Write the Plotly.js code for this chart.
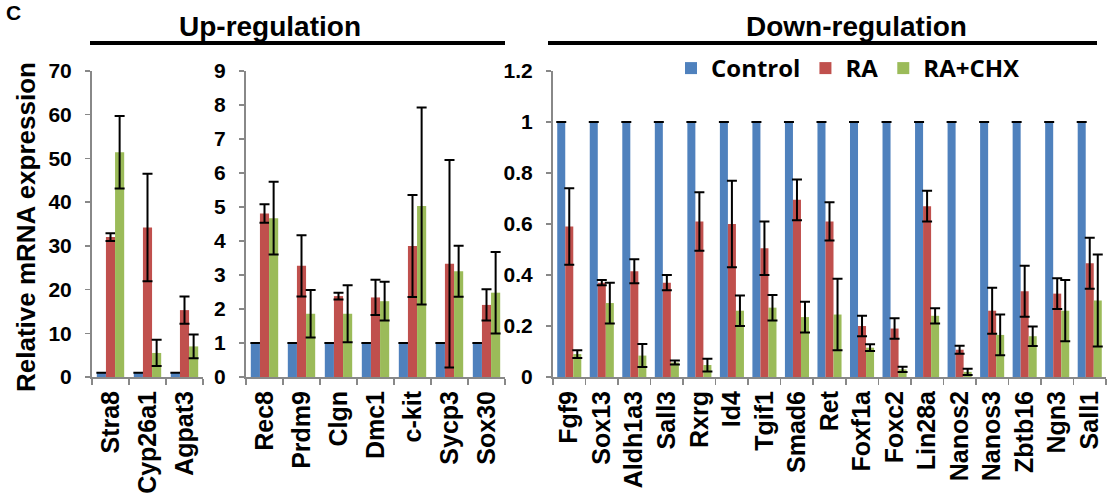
<!DOCTYPE html>
<html><head><meta charset="utf-8">
<script src="https://cdn.plot.ly/plotly-3.0.1.min.js"></script>
<style>html,body{margin:0;padding:0;background:#fff}#chart{width:1119px;height:502px}</style>
</head><body><div id="chart"></div>
<script>
// Panel 1 (Up-regulation, large scale)
const cats1 = ['Stra8','Cyp26a1','Agpat3'];
const ctrl1 = [1,1,1];
const ra1 = [32,34.2,15.3];
const raErr1 = [0.9,12.3,3.1];
const chx1 = [51.4,5.5,7];
const chxErr1 = [8.3,3,2.7];
// Panel 2 (Up-regulation, small scale)
const cats2 = ['Rec8','Prdm9','Clgn','Dmc1','c-kit','Sycp3','Sox30'];
const ctrl2 = [1,1,1,1,1,1,1];
const ra2 = [4.81,3.27,2.38,2.34,3.85,3.33,2.12];
const raErr2 = [0.27,0.9,0.1,0.52,1.5,3.05,0.46];
const chx2 = [4.67,1.86,1.86,2.23,5.03,3.11,2.48];
const chxErr2 = [1.07,0.7,0.84,0.57,2.9,0.75,1.2];
// Panel 3 (Down-regulation)
const cats3 = ['Fgf9','Sox13','Aldh1a3','Sall3','Rxrg','Id4','Tgif1','Smad6','Ret','Foxf1a','Foxc2','Lin28a','Nanos2','Nanos3','Zbtb16','Ngn3','Sall1'];
const ctrl3 = [1,1,1,1,1,1,1,1,1,1,1,1,1,1,1,1,1];
const ra3 = [0.59,0.37,0.415,0.37,0.61,0.6,0.505,0.695,0.61,0.2,0.19,0.67,0.107,0.26,0.336,0.327,0.446];
const raErr3 = [0.15,0.01,0.047,0.03,0.115,0.17,0.105,0.08,0.075,0.04,0.04,0.06,0.016,0.09,0.1,0.06,0.1];
const chx3 = [0.09,0.29,0.084,0.057,0.047,0.26,0.272,0.235,0.245,0.115,0.03,0.24,0.02,0.165,0.16,0.26,0.3];
const chxErr3 = [0.015,0.08,0.045,0.008,0.025,0.06,0.05,0.06,0.14,0.013,0.01,0.03,0.012,0.08,0.038,0.12,0.18];

const seriesNames = ['Control','RA','RA+CHX'];
const colors = ['#4F81BD','#C0504D','#9BBB59'];
const FONT = 'Arial, "Liberation Sans", sans-serif';
const LFONT = '"Open Sans", Lato, sans-serif';
const W = 1119, H = 502;

function errObj(arr){
  return {type:'data', array:arr, visible:true, color:'#000', thickness:2, width:5};
}
const panels = [
  {cats:cats1, vals:[ctrl1,ra1,chx1], errs:[ctrl1.map(()=>0),raErr1,chxErr1], xa:'x', ya:'y'},
  {cats:cats2, vals:[ctrl2,ra2,chx2], errs:[ctrl2.map(()=>0),raErr2,chxErr2], xa:'x2', ya:'y2'},
  {cats:cats3, vals:[ctrl3,ra3,chx3], errs:[ctrl3.map(()=>0),raErr3,chxErr3], xa:'x3', ya:'y3'}
];
const data = [];
panels.forEach((p,pi)=>{
  for(let s=0;s<3;s++){
    data.push({
      type:'bar', x:p.cats, y:p.vals[s], name:seriesNames[s],
      marker:{color:colors[s]}, error_y:errObj(p.errs[s]),
      xaxis:p.xa, yaxis:p.ya, legendgroup:seriesNames[s], showlegend:pi===2
    });
  }
});

const px = v => v/W;
const py = v => 1 - v/H;
const yDom = [py(377), py(71)];
const xTickFont = {family:FONT, size:25, color:'#000', weight:'bold'};
const yTickFont = {family:FONT, size:21, color:'#000', weight:'bold'};
function xAx(d, anchor){
  return {domain:[px(d[0]),px(d[1])], anchor:anchor, type:'category', tickangle:-90,
    ticks:'outside', tickson:'boundaries', ticklen:6, tickcolor:'#888', tickwidth:1.5,
    showline:true, linecolor:'#888', linewidth:2, showgrid:false, zeroline:false,
    tickfont:xTickFont, automargin:false, fixedrange:true, ticklabelstandoff:2};
}
function yAx(range, dtick, anchor){
  return {domain:yDom, anchor:anchor, range:range, dtick:dtick, ticks:'outside', ticklen:5,
    tickcolor:'#888', tickwidth:1.5, showline:true, linecolor:'#888', linewidth:2,
    showgrid:false, zeroline:false, tickfont:yTickFont, automargin:false, fixedrange:true,
    ticklabelstandoff:9};
}
const layout = {
  width:W, height:H, margin:{l:0,r:0,t:0,b:0}, paper_bgcolor:'#fff', plot_bgcolor:'#fff',
  barmode:'group', bargap:0.26, bargroupgap:0,
  font:{family:FONT, color:'#000'},
  xaxis: xAx([92,203],'y'),
  xaxis2: xAx([246,505],'y2'),
  xaxis3: xAx([553,1106],'y3'),
  yaxis: yAx([0,70],10,'x'),
  yaxis2: yAx([0,9],1,'x2'),
  yaxis3: yAx([0,1.2],0.2,'x3'),
  legend:{orientation:'h', x:px(671), xanchor:'left', y:py(46), yanchor:'top',
    font:{family:LFONT, size:24, color:'#000', weight:'bold'}, bgcolor:'rgba(0,0,0,0)',
    itemwidth:30, traceorder:'normal'},
  shapes:[
    {type:'line', xref:'paper', yref:'paper', x0:px(90), x1:px(505), y0:py(43), y1:py(43), line:{color:'#000', width:4}},
    {type:'line', xref:'paper', yref:'paper', x0:px(548), x1:px(1097), y0:py(43), y1:py(43), line:{color:'#000', width:4}}
  ],
  annotations:[
    {text:'Up-regulation', xref:'paper', yref:'paper', x:px(270), y:py(27), xanchor:'center', yanchor:'middle', showarrow:false,
      font:{family:FONT, size:28, color:'#000', weight:'bold'}},
    {text:'Down-regulation', xref:'paper', yref:'paper', x:px(856), y:py(27), xanchor:'center', yanchor:'middle', showarrow:false,
      font:{family:FONT, size:28, color:'#000', weight:'bold'}},
    {text:'C', xref:'paper', yref:'paper', x:px(13), y:py(13), xanchor:'center', yanchor:'middle', showarrow:false,
      font:{family:FONT, size:21, color:'#000', weight:'bold'}},
    {text:'Relative mRNA expression', xref:'paper', yref:'paper', x:px(26), y:py(227), xanchor:'center', yanchor:'middle', textangle:-90, showarrow:false,
      font:{family:FONT, size:26, color:'#000', weight:'bold'}}
  ]
};
Plotly.newPlot('chart', data, layout, {displayModeBar:false, staticPlot:true});
</script>
</body></html>
